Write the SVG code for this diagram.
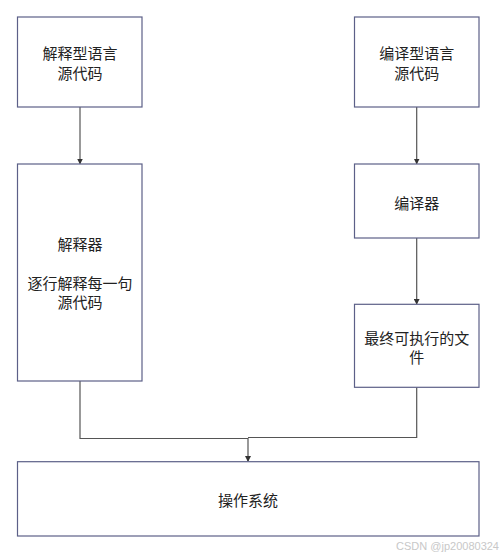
<svg xmlns="http://www.w3.org/2000/svg" width="500" height="554" viewBox="0 0 500 554">
<style>
.box{fill:#fff;stroke:#5c6088;stroke-width:1.2}
.t{font-family:"Noto Sans CJK SC","Microsoft YaHei",sans-serif;font-size:15px;fill:#222;text-anchor:middle}
.c{fill:none;stroke:#555;stroke-width:1.2}
.wm{font-family:"Liberation Sans",Arial,sans-serif;font-size:11px;fill:#c8c8c8}
</style>
<defs>
<marker id="arr" markerWidth="6" markerHeight="6" refX="5" refY="3" orient="auto" markerUnits="userSpaceOnUse">
<path d="M0,0 L6,3 L0,6 Z" fill="#333"/>
</marker>
</defs>
<rect width="500" height="554" fill="#fff"/>
<g id="connectors">
<path class="c" d="M80,107 V163.5" marker-end="url(#arr)"/>
<path class="c" d="M416.7,107 V163.5" marker-end="url(#arr)"/>
<path class="c" d="M416.7,238 V303.8" marker-end="url(#arr)"/>
<path class="c" d="M80,381 V438.5 H248 V461" marker-end="url(#arr)"/>
<path class="c" d="M416.7,387.3 V437.5 H248"/>
</g>
<g id="src-interp">
<rect class="box" x="17.5" y="17" width="124.5" height="90"/>
<text class="t" x="80" y="58.7">解释型语言</text>
<text class="t" x="80" y="78.7">源代码</text>
</g>
<g id="interpreter">
<rect class="box" x="17.5" y="164" width="124.5" height="217"/>
<text class="t" x="80" y="250">解释器</text>
<text class="t" x="80" y="288.7">逐行解释每一句</text>
<text class="t" x="80" y="308">源代码</text>
</g>
<g id="src-compile">
<rect class="box" x="354.5" y="17" width="124.5" height="90"/>
<text class="t" x="416.7" y="58.7">编译型语言</text>
<text class="t" x="416.7" y="78.7">源代码</text>
</g>
<g id="compiler">
<rect class="box" x="354.5" y="164" width="124.5" height="74"/>
<text class="t" x="416.7" y="208.7">编译器</text>
</g>
<g id="executable">
<rect class="box" x="354.5" y="304.3" width="124.5" height="83"/>
<text class="t" x="416.7" y="343.7">最终可执行的文</text>
<text class="t" x="416.7" y="362.7">件</text>
</g>
<g id="os">
<rect class="box" x="17.5" y="461.7" width="461.5" height="74.3"/>
<text class="t" x="248" y="505.7">操作系统</text>
</g>
<text class="wm" x="499" y="550" text-anchor="end">CSDN @jp20080324</text>
</svg>
